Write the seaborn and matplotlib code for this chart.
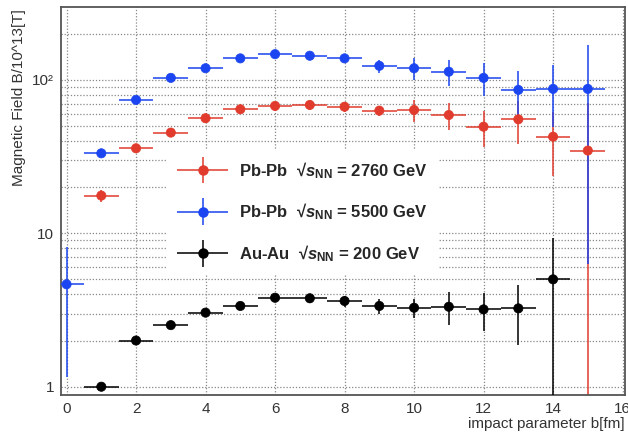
import numpy as np
import pandas as pd
import matplotlib
matplotlib.use("Agg")
import matplotlib.pyplot as plt
import seaborn as sns
from matplotlib.lines import Line2D
from matplotlib.container import ErrorbarContainer
from matplotlib.legend_handler import HandlerTuple, HandlerErrorbar
from matplotlib.ticker import FixedLocator, FixedFormatter, MultipleLocator, NullFormatter

# ---- data ----
b_red = [1, 2, 3, 4, 5, 6, 7, 8, 9, 10, 11, 12, 13, 14, 15]
B_red = [17.6, 35.8, 45.3, 56.2, 64.3, 67.6, 68.6, 66.8, 63.0, 63.6, 59.0, 49.5, 55.3, 42.6, 34.6]
E_red = [1.5, 2.5, 3.0, 3.5, 4.0, 4.5, 5.0, 5.0, 5.0, 10.5, 11.7, 13.0, 17.0, 19.0, 36.0]

b_blue = [0, 1, 2, 3, 4, 5, 6, 7, 8, 9, 10, 11, 12, 13, 14, 15]
B_blue = [4.65, 33.2, 74.0, 103, 119, 138, 147, 143.6, 138, 123.4, 119, 113, 103, 86, 87.3, 87.3]
E_blue = [3.5, 2.0, 3.0, 4.0, 5.0, 6.0, 7.0, 8.0, 8.0, 12.0, 19.0, 22.0, 25.0, 29.0, 38.0, 81.0]

b_black = [1, 2, 3, 4, 5, 6, 7, 8, 9, 10, 11, 12, 13, 14]
B_black = [1.0, 2.0, 2.52, 3.04, 3.36, 3.80, 3.77, 3.62, 3.36, 3.27, 3.32, 3.19, 3.24, 5.01]
E_black = [0.05, 0.08, 0.10, 0.12, 0.15, 0.20, 0.25, 0.30, 0.36, 0.47, 0.80, 0.90, 1.37, 4.27]

bin_half_width = 0.5
labels = [r"Pb-Pb  √$s_{\mathrm{NN}}$ = 2760 GeV",
          r"Pb-Pb  √$s_{\mathrm{NN}}$ = 5500 GeV",
          r"Au-Au  √$s_{\mathrm{NN}}$ = 200 GeV"]
colors = ["#e03b2c", "#1b45f0", "#000000"]
y_ticks = [1, 10, 100]
y_ticklabels = ["1", "10", "10²"]

# ---- style ----
sns.set_style("white")
plt.rcParams["font.family"] = ["Liberation Sans", "DejaVu Sans"]
plt.rcParams["mathtext.fontset"] = "custom"
plt.rcParams["mathtext.rm"] = "Liberation Sans:bold"
plt.rcParams["mathtext.it"] = "Liberation Sans:italic:bold"
plt.rcParams["mathtext.bf"] = "Liberation Sans:bold"

fig = plt.figure(figsize=(6.28, 4.34), dpi=100)
ax = fig.add_axes([61 / 628, 39 / 434, 564 / 628, 387.7 / 434])

frames = []
for name, xs, ys, es in [(labels[0], b_red, B_red, E_red),
                         (labels[1], b_blue, B_blue, E_blue),
                         (labels[2], b_black, B_black, E_black)]:
    frames.append(pd.DataFrame({"b": xs, "B": ys, "err": es, "series": name}))
df = pd.concat(frames, ignore_index=True)

handles = []
for i, name in enumerate(labels):
    sub = df[df["series"] == name]
    eb = ax.errorbar(sub["b"], sub["B"], yerr=sub["err"], xerr=bin_half_width,
                     fmt="none", ecolor=colors[i], elinewidth=1.3, alpha=0.85,
                     capsize=0, zorder=2 + i)
    handles.append((eb, Line2D([], [], marker="o", linestyle="none", markersize=6.5,
                               markerfacecolor=colors[i], markeredgecolor=colors[i])))

sns.scatterplot(data=df, x="b", y="B", hue="series", hue_order=labels,
                palette=colors, s=44, edgecolor=None, legend=False, ax=ax, zorder=6)

ax.set_yscale("log")
ax.set_xlim(-0.16, 16.07)
ax.set_ylim(0.883, 297)

# ticks (ROOT style: inside)
ax.xaxis.set_major_locator(MultipleLocator(2))
ax.xaxis.set_minor_locator(MultipleLocator(0.5))
ax.yaxis.set_major_locator(FixedLocator(y_ticks))
ax.yaxis.set_major_formatter(FixedFormatter(y_ticklabels))
minor_y = [m * d for d in (1, 10, 100) for m in range(2, 10) if m * d < 300]
ax.yaxis.set_minor_locator(FixedLocator(minor_y))
ax.yaxis.set_minor_formatter(NullFormatter())
ax.tick_params(axis="both", which="major", direction="in", length=9, width=1.2,
               color="#333333", labelsize=11, labelcolor="#333333", pad=5)
ax.tick_params(axis="both", which="minor", direction="in", length=5, width=1.0,
               color="#333333")
ax.tick_params(axis="y", which="major", length=17)
ax.tick_params(axis="y", which="minor", length=9)
ax.tick_params(top=False, right=False)

# grid
ax.grid(True, axis="x", which="major", color="#888888", linestyle=(0, (1, 1.5)), lw=0.9)
ax.grid(True, axis="y", which="both", color="#888888", linestyle=(0, (1, 1.5)), lw=0.9)
ax.set_axisbelow(True)

for sp in ax.spines.values():
    sp.set_color("#555555")
    sp.set_linewidth(1.3)

ax.set_xlabel("impact parameter b[fm]", loc="right", fontsize=11, color="#333333")
ax.xaxis.set_label_coords(1.0, -0.057)
ax.set_ylabel("Magnetic Field B/10^13[T]", loc="top", fontsize=11, color="#333333")
ax.yaxis.set_label_coords(-0.062, 0.995)

leg = ax.legend(handles, labels,
                handler_map={tuple: HandlerTuple(ndivide=1),
                             ErrorbarContainer: HandlerErrorbar(xerr_size=1.55, yerr_size=0.8)},
                loc="upper left", bbox_to_anchor=(0.186, 0.632), borderaxespad=0,
                frameon=True, fancybox=False, framealpha=1, facecolor="white",
                edgecolor="none", handlelength=3.2, handletextpad=0.6,
                labelspacing=1.25, borderpad=0.6,
                prop={"family": "Liberation Sans", "weight": "bold", "size": 12})
leg.set_zorder(10)

fig.savefig("out.png", dpi=100)
